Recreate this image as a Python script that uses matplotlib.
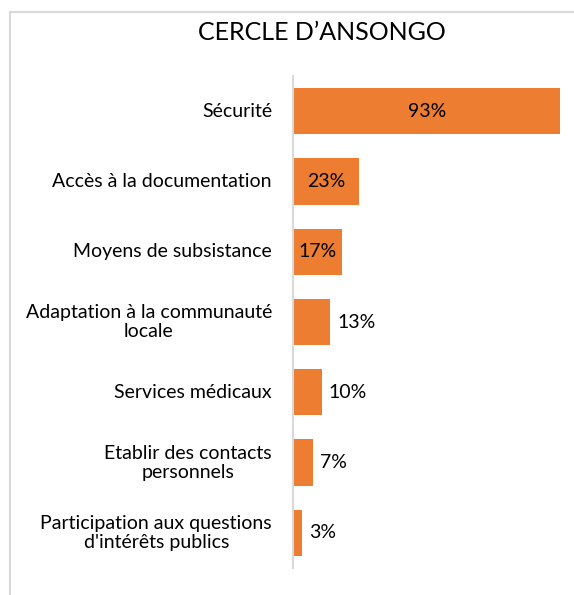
import matplotlib.pyplot as plt
from matplotlib.patches import Rectangle

categories = ['Sécurité', 'Accès à la documentation', 'Moyens de subsistance',
              'Adaptation à la communauté\nlocale', 'Services médicaux',
              'Etablir des contacts\npersonnels',
              "Participation aux questions\nd'intérêts publics"]
values = [93, 23, 17, 13, 10, 7, 3]
inside = [True, True, True, False, False, False, False]

plt.rcParams['font.family'] = ['Lato', 'DejaVu Sans']

fig = plt.figure(figsize=(5.74, 5.95), dpi=100)
W, H = 574, 595
# light grey chart frame (runs off the right and bottom edges)
fig.patches.append(Rectangle((10 / W, -0.1), 1.2, 1.1 - 12 / H, transform=fig.transFigure,
                             fill=False, edgecolor='#D9D9D9', linewidth=1.5))

ax = fig.add_axes([293 / W, 1 - 568 / H, (572 - 293) / W, (568 - 76) / H])
y = list(range(len(categories)))
ax.barh(y, values, height=0.66, color='#ED7D31')
ax.set_ylim(len(categories) - 0.5, -0.5)
ax.set_xlim(0, 97)
ax.set_yticks([])
ax.set_xticks([])
for s in ['top', 'right', 'bottom']:
    ax.spines[s].set_visible(False)
ax.spines['left'].set_color('#D9D9D9')
ax.spines['left'].set_linewidth(1.5)

# category labels, centred lines, right edge next to the axis
for yi, cat in zip(y, categories):
    ax.annotate(cat, xy=(0, yi), xycoords=('axes fraction', 'data'),
                xytext=(-21, 0), textcoords='offset pixels',
                ha='right', va='center', multialignment='center',
                linespacing=1.15, fontsize=14)

for yi, v, ins in zip(y, values, inside):
    if ins:
        ax.text(v / 2, yi, f'{v}%', ha='center', va='center', fontsize=14)
    else:
        ax.text(v + 2.5, yi, f'{v}%', ha='left', va='center', fontsize=14)

fig.text(322 / W, 1 - 33 / H, 'CERCLE D\u2019ANSONGO', ha='center', va='center', fontsize=18)

fig.savefig('out.png', dpi=100)
